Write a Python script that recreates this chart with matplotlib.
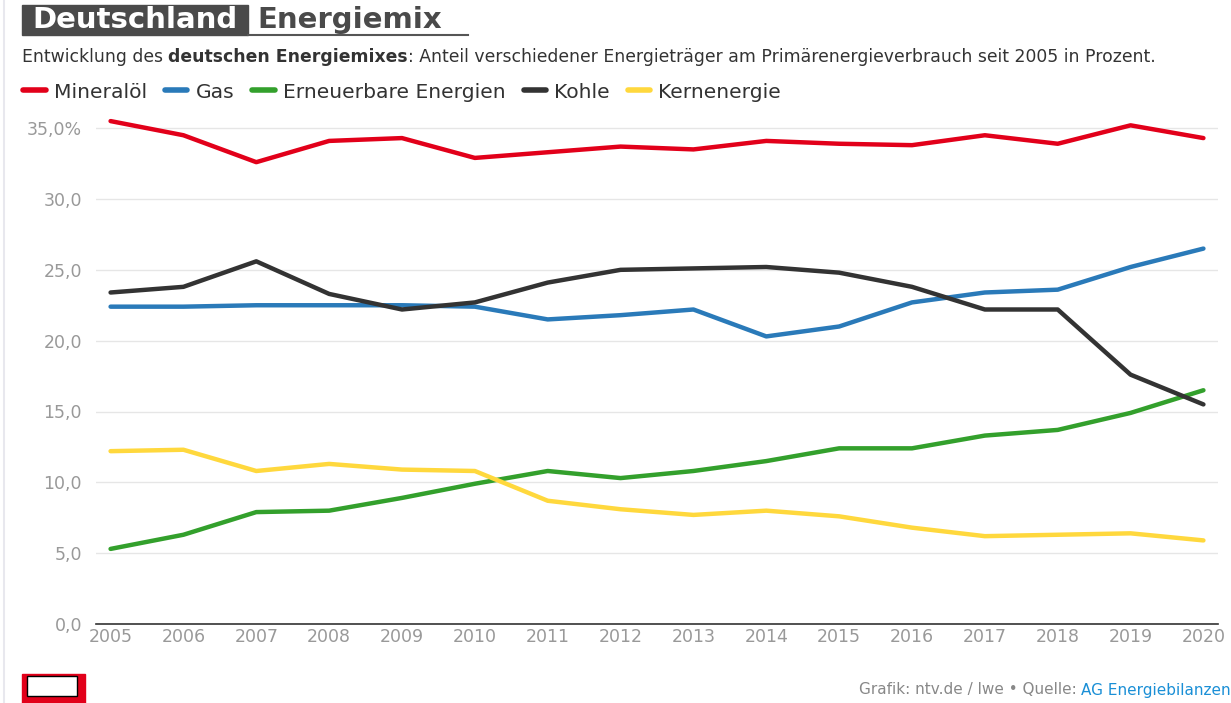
import matplotlib.pyplot as plt
from matplotlib.lines import Line2D
from matplotlib.patches import Rectangle

plt.rcParams['font.family'] = ['DejaVu Sans']

W, H = 1231, 703

years = list(range(2005, 2021))
mineraloel = [35.5, 34.5, 32.6, 34.1, 34.3, 32.9, 33.3, 33.7, 33.5, 34.1, 33.9, 33.8, 34.5, 33.9, 35.2, 34.3]
gas = [22.4, 22.4, 22.5, 22.5, 22.5, 22.4, 21.5, 21.8, 22.2, 20.3, 21.0, 22.7, 23.4, 23.6, 25.2, 26.5]
erneuerbare = [5.3, 6.3, 7.9, 8.0, 8.9, 9.9, 10.8, 10.3, 10.8, 11.5, 12.4, 12.4, 13.3, 13.7, 14.9, 16.5]
kohle = [23.4, 23.8, 25.6, 23.3, 22.2, 22.7, 24.1, 25.0, 25.1, 25.2, 24.8, 23.8, 22.2, 22.2, 17.6, 15.5]
kernenergie = [12.2, 12.3, 10.8, 11.3, 10.9, 10.8, 8.7, 8.1, 7.7, 8.0, 7.6, 6.8, 6.2, 6.3, 6.4, 5.9]

series = [
    ("Mineralöl", mineraloel, "#e2001a"),
    ("Gas", gas, "#2a7ab9"),
    ("Erneuerbare Energien", erneuerbare, "#33a02c"),
    ("Kohle", kohle, "#333333"),
    ("Kernenergie", kernenergie, "#ffd83d"),
]
yticks = [0, 5, 10, 15, 20, 25, 30, 35]
ylabels = ["0,0", "5,0", "10,0", "15,0", "20,0", "25,0", "30,0", "35,0%"]


def fx(x):
    return x / W


def fy(y):
    return 1 - y / H


fig = plt.figure(figsize=(W / 100, H / 100), dpi=100)
ax = fig.add_axes([fx(96), fy(624), fx(1218) - fx(96), fy(114) - fy(624)])

for name, vals, col in series:
    ax.plot(years, vals, color=col, lw=3.2, solid_capstyle="round", zorder=3)

ax.set_xlim(2004.8, 2020.2)
ax.set_ylim(0, 36)
ax.set_yticks(yticks)
ax.set_yticklabels(ylabels)
ax.set_xticks(years)
ax.tick_params(axis="both", length=0, labelsize=12.5, labelcolor="#999999")
ax.tick_params(axis="y", pad=10)
ax.tick_params(axis="x", pad=3)
ax.grid(axis="y", color="#e6e6e6", lw=1)
ax.set_axisbelow(True)
for s in ["top", "right", "left"]:
    ax.spines[s].set_visible(False)
ax.spines["bottom"].set_color("#333333")
ax.spines["bottom"].set_linewidth(1.2)

# title block
fig.patches.append(Rectangle((fx(22), fy(35)), fx(248) - fx(22), fy(5) - fy(35),
                             transform=fig.transFigure, color="#4a4a4a"))
fig.add_artist(Line2D([fx(248), fx(468)], [fy(35), fy(35)], color="#555555", lw=1.5))
fig.text(fx(32), fy(20), "Deutschland", color="white", fontsize=21, fontweight="heavy", va="center")
fig.text(fx(257), fy(20), "Energiemix", color="#4a4a4a", fontsize=21, fontweight="heavy", va="center")

# subtitle with bold part
parts = [("Entwicklung des ", "normal"), ("deutschen Energiemixes", "bold"),
         (": Anteil verschiedener Energieträger am Primärenergieverbrauch seit 2005 in Prozent.", "normal")]
fig.canvas.draw()
r = fig.canvas.get_renderer()
x = fx(22)
for txt, wt in parts:
    t = fig.text(x, fy(57), txt, fontsize=12.4, fontweight=wt, color="#333333", va="center")
    bb = t.get_window_extent(renderer=r)
    x += bb.width / W

# legend
handles = [Line2D([], [], color=c, lw=4, solid_capstyle="round") for _, _, c in series]
fig.legend(handles, [n for n, _, _ in series], loc="center left", bbox_to_anchor=(fx(5), fy(92)),
           ncol=5, frameon=False, fontsize=14.6, handlelength=1.1, handletextpad=0.4,
           columnspacing=0.9, labelcolor="#333333")

# footer
src = fig.text(fx(1231), fy(690), "AG Energiebilanzen", color="#1a8fd6", fontsize=11, ha="right", va="center")
bb = src.get_window_extent(renderer=r)
fig.text(fx(1231) - bb.width / W, fy(690), "Grafik: ntv.de / lwe • Quelle: ", color="#888888",
         fontsize=11, ha="right", va="center")

# logo placeholder
fig.patches.append(Rectangle((fx(22), fy(703)), fx(85) - fx(22), fy(674) - fy(703),
                             transform=fig.transFigure, color="#e2001a"))
fig.patches.append(Rectangle((fx(27), fy(696)), fx(77) - fx(27), fy(676) - fy(696),
                             transform=fig.transFigure, facecolor="white", edgecolor="black", lw=1))
fig.add_artist(Line2D([fx(4), fx(4)], [0, 1], color="#e8e8ee", lw=1.5))

fig.savefig("out.png", dpi=100)
